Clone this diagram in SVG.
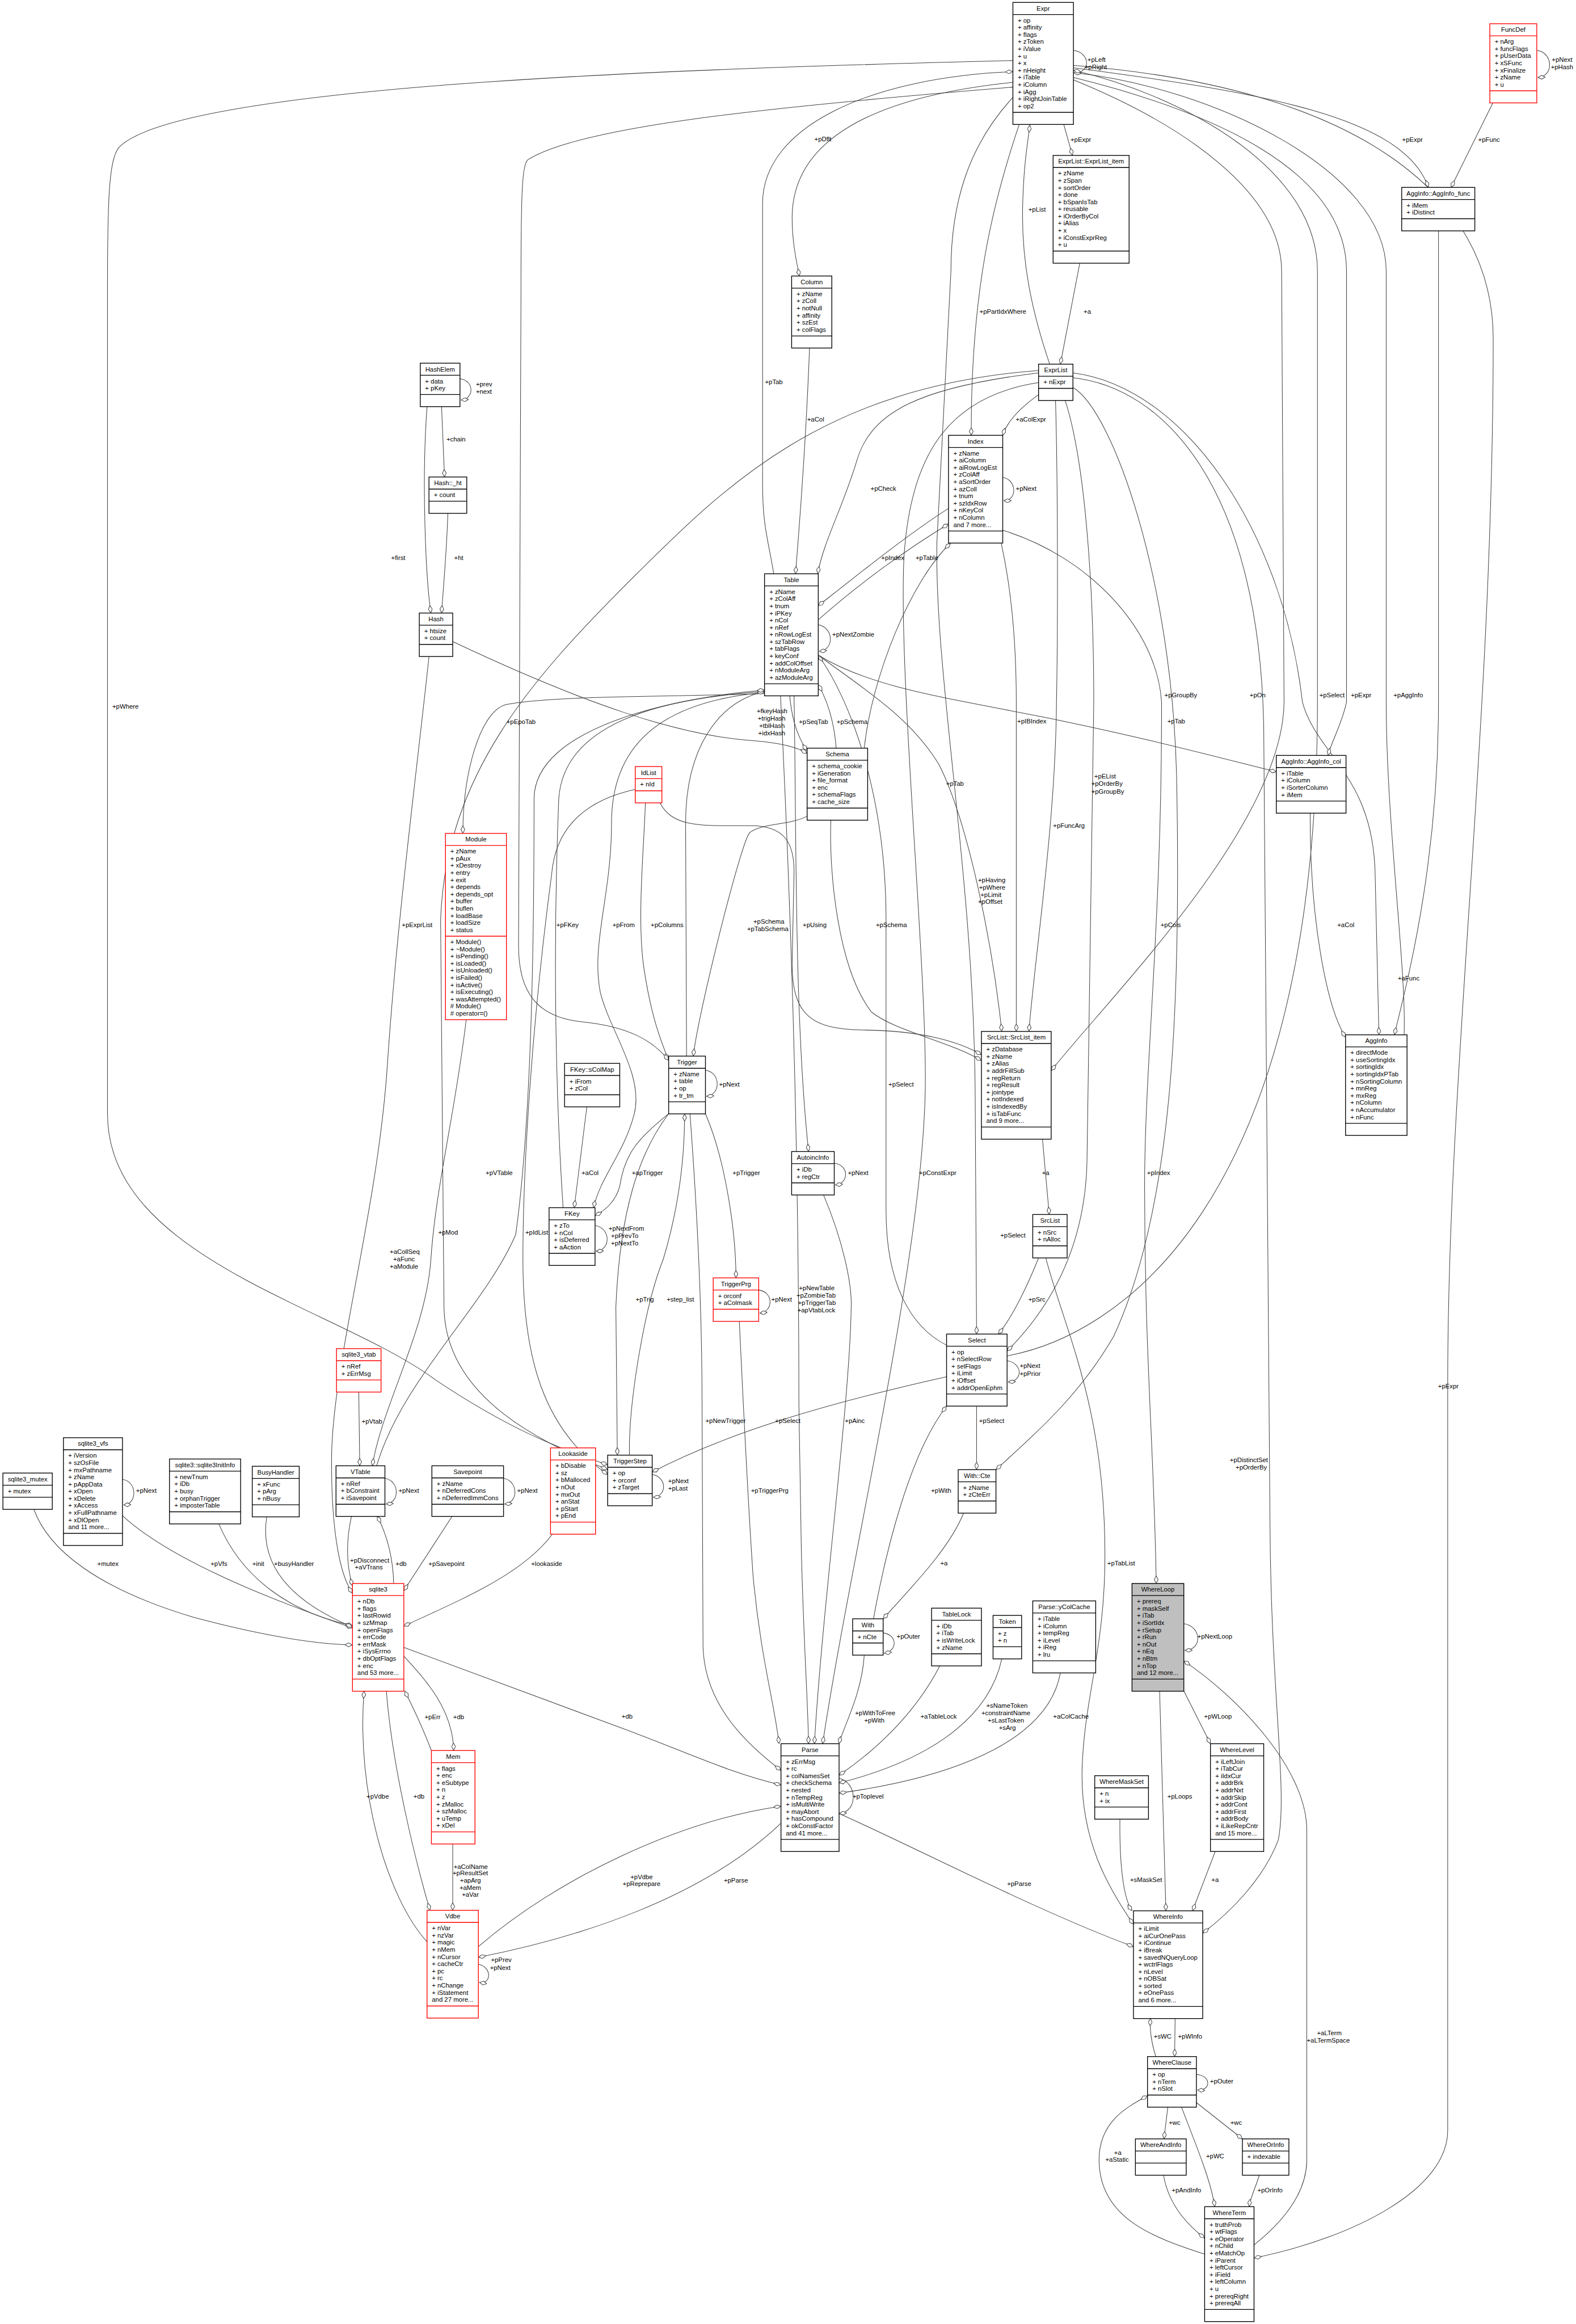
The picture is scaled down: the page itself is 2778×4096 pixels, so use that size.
<svg xmlns="http://www.w3.org/2000/svg" width="2778" height="4096" viewBox="0 0 2778 4096">
<defs>
<style>
.b{fill:#fff;stroke:#000;stroke-width:1.6}
.r{fill:#fff;stroke:#f00;stroke-width:1.6}
.g{fill:#bfbfbf;stroke:#000;stroke-width:1.6}
.s{fill:none;stroke:#000;stroke-width:1.6}
.sr{fill:none;stroke:#f00;stroke-width:1.6}
text{font-family:"Liberation Sans",Arial,sans-serif;font-size:13.3px;fill:#000}
.h{text-anchor:middle}
.e{fill:none;stroke:#404040;stroke-width:1.2;marker-end:url(#od)}
</style>
<marker id="od" viewBox="0 0 16 9" markerWidth="16" markerHeight="9" refX="16" refY="4.5" orient="auto" markerUnits="userSpaceOnUse"><path d="M0.5,4.5 L8,0.5 L15.5,4.5 L8,8.5 Z" fill="#fff" stroke="#404040" stroke-width="1.2"/></marker>
</defs>
<rect width="2778" height="4096" fill="#fff"/>
<g transform="scale(0.85346)">
<g id="edges">
<path class="e" d="M2217,104 C2252,108 2254,152 2218,150"/>
<path class="e" d="M2197,257 L2215,321"/>
<path class="e" d="M2168,752 C2130,640 2110,540 2112,430 C2114,340 2122,300 2127,258"/>
<path class="e" d="M2230,544 L2190,752"/>
<path class="e" d="M2217,140 C2600,190 2900,240 2950,387"/>
<path class="e" d="M3083,213 L2997,387"/>
<path class="e" d="M3174,104 C3208,108 3210,158 3176,160"/>
<path class="e" d="M2092,170 C1800,200 1636,290 1636,450 C1636,500 1645,540 1651,570"/>
<path class="e" d="M1598,1185 C1588,1120 1575,1090 1575,1000 L1575,420 C1575,260 1800,160 2092,148"/>
<path class="e" d="M2105,257 C2050,420 2005,600 2006,899"/>
<path class="e" d="M2145,815 C2110,840 2080,870 2071,899"/>
<path class="e" d="M2071,986 C2100,990 2102,1034 2073,1034"/>
<path class="e" d="M1672,719 C1665,900 1650,1100 1643,1185"/>
<path class="e" d="M2145,770 C1900,800 1800,850 1770,950 C1740,1050 1700,1120 1689,1185"/>
<path class="e" d="M1959,1050 C1880,1100 1780,1180 1690,1251"/>
<path class="e" d="M1690,1280 C1780,1200 1880,1130 1959,1082"/>
<path class="e" d="M1690,1290 C1722,1296 1724,1342 1692,1345"/>
<path class="e" d="M1727,1545 C1722,1480 1705,1440 1690,1414"/>
<path class="e" d="M1631,1437 C1635,1480 1645,1520 1667,1550"/>
<path class="e" d="M935,1325 C1200,1450 1400,1520 1560,1530 C1620,1535 1650,1545 1667,1556"/>
<path class="e" d="M925,1060 C922,1150 915,1220 912,1266"/>
<path class="e" d="M882,840 C870,1000 880,1200 890,1266"/>
<path class="e" d="M912,840 L918,985"/>
<path class="e" d="M950,782 C980,786 980,824 952,826"/>
<path class="e" d="M1579,1432 C1400,1440 1150,1435 1045,1455 C990,1470 956,1600 956,1721"/>
<path class="e" d="M1163,2494 C1150,2300 1140,2000 1154,1650 C1165,1480 1400,1440 1579,1428"/>
<path class="e" d="M1579,1430 C1350,1450 1263,1550 1263,1700 C1263,1850 1220,1950 1240,2050 C1260,2130 1330,2220 1310,2300 C1290,2380 1240,2430 1226,2494"/>
<path class="e" d="M1333,1658 C1330,1750 1315,1900 1330,2000 C1345,2100 1365,2150 1381,2190"/>
<path class="e" d="M1668,1685 C1630,1705 1570,1700 1548,1720 C1530,1740 1440,2100 1432,2181"/>
<path class="e" d="M1363,1658 C1390,1710 1450,1705 1550,1705 C1620,1705 1640,1740 1640,1800 L1636,1990 C1636,2100 1680,2125 1780,2127 C1900,2128 1980,2150 2027,2178"/>
<path class="e" d="M1716,1694 C1712,1800 1730,2000 1800,2090 C1850,2130 1960,2150 2027,2190"/>
<path class="e" d="M1955,2778 C1880,2740 1830,2650 1830,2500 L1830,1900 C1830,1650 1760,1450 1690,1353"/>
<path class="e" d="M1690,1353 C1780,1420 1880,1480 1940,1580 C2000,1700 2050,1950 2069,2130"/>
<path class="e" d="M2068,1122 C2085,1200 2099,1300 2099,1450 L2099,2130"/>
<path class="e" d="M2180,827 C2185,1000 2185,1300 2182,1450 C2180,1700 2140,1950 2125,2130"/>
<path class="e" d="M2200,827 C2240,950 2259,1200 2259,1450 L2245,2400 C2240,2600 2150,2720 2080,2790"/>
<path class="e" d="M2093,200 C2000,300 1964,420 1964,560 L1935,1120 C1930,1400 2010,1800 2014,2250 L2017,2755"/>
<path class="e" d="M2145,790 C1950,820 1880,950 1867,1150 C1855,1400 1915,2000 1911,2250 C1905,2600 1760,3200 1699,3601"/>
<path class="e" d="M2153,2352 L2167,2508"/>
<path class="e" d="M2145,2598 C2120,2660 2090,2720 2062,2755"/>
<path class="e" d="M2080,2810 C2112,2815 2114,2852 2082,2854"/>
<path class="e" d="M1804,3343 C1830,3200 1880,3000 1955,2904"/>
<path class="e" d="M2017,2904 L2017,3035"/>
<path class="e" d="M2216,800 C2300,850 2420,1200 2430,1600 C2440,2100 2420,2500 2300,2760 C2230,2880 2150,2950 2057,3035"/>
<path class="e" d="M1990,3125 C1960,3200 1880,3280 1824,3343"/>
<path class="e" d="M1824,3372 C1854,3376 1854,3410 1826,3414"/>
<path class="e" d="M1785,3418 C1780,3500 1740,3570 1733,3601"/>
<path class="e" d="M1941,3440 C1900,3520 1830,3600 1733,3666"/>
<path class="e" d="M2069,3426 C2040,3560 1900,3640 1733,3682"/>
<path class="e" d="M2190,3455 C2160,3620 1900,3680 1733,3703"/>
<path class="e" d="M1733,3672 C1772,3682 1772,3742 1733,3745"/>
<path class="e" d="M2160,2598 C2200,2750 2280,2900 2282,3200 C2284,3400 2240,3500 2235,3650 C2230,3800 2290,3900 2341,3974"/>
<path class="e" d="M2395,3492 L2408,3946"/>
<path class="e" d="M2445,3353 C2482,3358 2484,3408 2447,3408"/>
<path class="e" d="M2445,3492 L2500,3601"/>
<path class="e" d="M2510,3823 L2463,3946"/>
<path class="e" d="M2313,3757 C2312,3850 2320,3920 2338,3946"/>
<path class="e" d="M1733,3745 C1900,3820 2150,3950 2341,4020"/>
<path class="e" d="M2216,780 C2400,800 2600,1000 2610,1500 L2623,3150 C2625,3500 2660,3700 2640,3800 C2610,3880 2540,3950 2484,3992"/>
<path class="e" d="M2071,1095 C2250,1150 2390,1300 2399,1450 C2400,1900 2364,2200 2364,2450 C2364,2800 2384,3000 2388,3270"/>
<path class="e" d="M1690,1353 C1800,1420 1950,1440 2150,1480 C2350,1520 2500,1560 2636,1594"/>
<path class="e" d="M2706,1679 C2705,1900 2740,2080 2779,2142"/>
<path class="e" d="M2971,477 L2971,1450 C2971,1800 2900,2050 2880,2137"/>
<path class="e" d="M2216,770 C2450,800 2650,1100 2690,1450 C2720,1560 2834,1600 2840,1800 L2848,2137"/>
<path class="e" d="M2217,160 C2500,230 2781,350 2781,560 L2781,1450 C2770,1500 2750,1530 2743,1560"/>
<path class="e" d="M2900,2137 C2905,2000 2863,1700 2863,1450 L2863,560 C2863,350 2500,180 2217,150"/>
<path class="e" d="M2080,2800 C2300,2760 2721,2500 2721,1450 L2721,560 C2721,350 2450,200 2217,145"/>
<path class="e" d="M2217,165 C2450,260 2647,400 2647,560 L2652,1450 C2650,1700 2300,2050 2171,2211"/>
<path class="e" d="M2217,135 C2800,180 3084,400 3084,700 C3084,1500 2990,2200 2990,2860 L2990,4400 C2990,4520 2800,4620 2590,4663"/>
<path class="e" d="M2590,4636 C2660,4580 2699,4520 2699,4460 L2699,3780 C2699,3650 2550,3500 2445,3430"/>
<path class="e" d="M2387,4247 C2376,4210 2375,4190 2376,4168"/>
<path class="e" d="M2427,4168 L2426,4247"/>
<path class="e" d="M2471,4284 C2502,4286 2502,4318 2473,4316"/>
<path class="e" d="M2412,4351 L2404,4417"/>
<path class="e" d="M2471,4342 L2566,4417"/>
<path class="e" d="M2488,4655 C2380,4620 2270,4580 2270,4460 C2270,4380 2330,4350 2370,4328"/>
<path class="e" d="M2440,4351 C2470,4430 2500,4500 2509,4557"/>
<path class="e" d="M2403,4492 C2415,4560 2460,4600 2488,4622"/>
<path class="e" d="M2601,4492 C2592,4520 2582,4540 2580,4557"/>
<path class="e" d="M741,2875 L743,3027"/>
<path class="e" d="M795,3053 C826,3058 826,3104 797,3106"/>
<path class="e" d="M253,3055 C284,3060 284,3106 255,3108"/>
<path class="e" d="M1040,3053 C1071,3058 1071,3104 1042,3106"/>
<path class="e" d="M70,3117 C100,3200 200,3280 400,3340 C550,3380 650,3395 728,3397"/>
<path class="e" d="M253,3130 C350,3220 550,3300 728,3362"/>
<path class="e" d="M452,3147 C500,3260 600,3330 728,3357"/>
<path class="e" d="M551,3132 C540,3200 560,3290 728,3360"/>
<path class="e" d="M726,3131 C715,3180 715,3230 728,3275"/>
<path class="e" d="M813,3270 C812,3220 800,3170 779,3131"/>
<path class="e" d="M934,3131 L834,3285"/>
<path class="e" d="M1141,3168 C1080,3250 960,3300 834,3358"/>
<path class="e" d="M891,3615 C870,3560 850,3520 836,3492"/>
<path class="e" d="M834,3420 C880,3470 935,3530 937,3615"/>
<path class="e" d="M882,4010 C800,3920 735,3700 752,3492"/>
<path class="e" d="M798,3492 C810,3650 860,3850 888,3945"/>
<path class="e" d="M935,3808 L935,3945"/>
<path class="e" d="M988,4020 C1150,3880 1400,3760 1613,3730"/>
<path class="e" d="M1613,3765 C1450,3920 1200,4000 988,4042"/>
<path class="e" d="M988,4056 C1016,4062 1016,4098 990,4094"/>
<path class="e" d="M834,3402 L1250,3556 C1400,3610 1500,3660 1613,3686"/>
<path class="e" d="M1425,2300 C1440,2500 1450,2700 1450,2900 L1452,3400 C1455,3520 1540,3600 1613,3656"/>
<path class="e" d="M1527,2729 C1535,2900 1545,3100 1555,3250 C1570,3420 1600,3520 1609,3601"/>
<path class="e" d="M1612,1437 C1630,1800 1650,2300 1650,2900 L1655,3200 C1660,3400 1668,3500 1670,3601"/>
<path class="e" d="M1701,2468 C1740,2560 1760,2650 1758,2700 C1755,2900 1700,3300 1682,3601"/>
<path class="e" d="M1381,2300 C1320,2380 1280,2500 1272,2700 L1275,3005"/>
<path class="e" d="M1300,3005 C1298,2900 1330,2700 1370,2600 C1400,2500 1414,2400 1414,2300"/>
<path class="e" d="M1347,3045 C1378,3050 1378,3090 1349,3092"/>
<path class="e" d="M1418,2181 L1416,1700 C1416,1550 1480,1450 1579,1428"/>
<path class="e" d="M1457,2210 C1489,2214 1489,2262 1459,2264"/>
<path class="e" d="M1381,2300 C1320,2350 1290,2380 1280,2450 C1272,2480 1250,2500 1229,2510"/>
<path class="e" d="M1212,2286 L1186,2494"/>
<path class="e" d="M1229,2531 C1262,2536 1262,2582 1231,2584"/>
<path class="e" d="M1457,2300 C1500,2400 1520,2550 1520,2639"/>
<path class="e" d="M1567,2664 C1598,2668 1598,2708 1569,2712"/>
<path class="e" d="M1723,2402 C1754,2406 1754,2444 1725,2447"/>
<path class="e" d="M1640,1437 C1645,1700 1640,2100 1670,2378"/>
<path class="e" d="M2092,180 C1600,220 1200,260 1090,330 C1078,340 1076,400 1076,600 L1071,1950 C1070,2050 1110,2100 1200,2110 C1300,2120 1350,2150 1381,2190"/>
<path class="e" d="M2092,125 C1500,140 400,170 250,300 C225,320 222,400 222,600 L222,2300 C222,2600 700,2700 900,2850 C1050,2950 1150,2990 1255,3025"/>
<path class="e" d="M2145,765 C1700,800 1500,1000 1300,1200 C1100,1400 920,1600 910,1900 L917,2700 C920,2900 1150,2990 1255,3035"/>
<path class="e" d="M1312,1630 C1220,1650 1150,1700 1140,1800 C1100,2100 1080,2400 1080,2600 C1080,2800 1120,2950 1255,3045"/>
<path class="e" d="M963,2105 C940,2300 900,2450 890,2600 C880,2750 790,2900 769,3027"/>
<path class="e" d="M778,3027 C830,2850 1000,2700 1065,2550 C1100,2300 1103,1900 1103,1650 C1103,1500 1400,1440 1579,1425"/>
<path class="e" d="M886,1356 C860,1600 820,1900 800,2200 C780,2500 690,2800 685,3000 C683,3150 700,3250 728,3290"/>
<path class="e" d="M1955,2843 C1700,2900 1500,2960 1347,3040"/>
<path class="e" d="M1785,1545 C1800,1400 1880,1200 1963,1122"/>
</g>
<g id="edge-labels">
<text x="2246" y="128">+pLeft</text><text x="2240" y="143">+pRight</text>
<text x="2211" y="293">+pExpr</text>
<text x="2124" y="437">+pList</text>
<text x="2238" y="648">+a</text>
<text x="2896" y="293">+pExpr</text>
<text x="3053" y="293">+pFunc</text>
<text x="3205" y="128">+pNext</text><text x="3203" y="143">+pHash</text>
<text x="1682" y="292">+pDflt</text>
<text x="1580" y="793">+pTab</text>
<text x="2023" y="648">+pPartIdxWhere</text>
<text x="2098" y="870">+aColExpr</text>
<text x="2098" y="1013">+pNext</text>
<text x="1667" y="870">+aCol</text>
<text x="1798" y="1013">+pCheck</text>
<text x="1820" y="1157">+pIndex</text>
<text x="1891" y="1157">+pTable</text>
<text x="1719" y="1315">+pNextZombie</text>
<text x="1728" y="1495">+pSchema</text>
<text x="1650" y="1495">+pSeqTab</text>
<text x="1563" y="1473">+fkeyHash</text><text x="1565" y="1488">+trigHash</text><text x="1568" y="1503">+tblHash</text><text x="1566" y="1518">+idxHash</text>
<text x="938" y="1157">+ht</text>
<text x="808" y="1157">+first</text>
<text x="922" y="912">+chain</text>
<text x="983" y="798">+prev</text><text x="983" y="813">+next</text>
<text x="1046" y="1495">+pEpoTab</text>
<text x="1149" y="1915">+pFKey</text>
<text x="1265" y="1915">+pFrom</text>
<text x="1344" y="1915">+pColumns</text>
<text x="1556" y="1908">+pSchema</text><text x="1543" y="1923">+pTabSchema</text>
<text x="1658" y="1915">+pUsing</text>
<text x="1809" y="1915">+pSchema</text>
<text x="1003" y="2427">+pVTable</text>
<text x="1201" y="2427">+aCol</text>
<text x="1305" y="2427">+apTrigger</text>
<text x="1513" y="2427">+pTrigger</text>
<text x="1751" y="2427">+pNext</text>
<text x="1485" y="2244">+pNext</text>
<text x="1835" y="2244">+pSelect</text>
<text x="1257" y="2542">+pNextFrom</text><text x="1262" y="2557">+pPrevTo</text><text x="1262" y="2572">+pNextTo</text>
<text x="1898" y="2427">+pConstExpr</text>
<text x="2152" y="2427">+a</text>
<text x="2066" y="2556">+pSelect</text>
<text x="1313" y="2688">+pTrig</text>
<text x="1377" y="2688">+step_list</text>
<text x="1593" y="2688">+pNext</text>
<text x="1650" y="2665">+pNewTable</text><text x="1645" y="2680">+pZombieTab</text><text x="1648" y="2695">+pTriggerTab</text><text x="1647" y="2710">+apVtabLock</text>
<text x="2124" y="2688">+pSrc</text>
<text x="2106" y="2825">+pNext</text><text x="2106" y="2841">+pPrior</text>
<text x="1457" y="2939">+pNewTrigger</text>
<text x="1601" y="2939">+pSelect</text>
<text x="1745" y="2939">+pAinc</text>
<text x="2022" y="2939">+pSelect</text>
<text x="1380" y="3063">+pNext</text><text x="1380" y="3078">+pLast</text>
<text x="2101" y="1494">+pIBIndex</text>
<text x="2411" y="1494">+pTab</text>
<text x="1954" y="1623">+pTab</text>
<text x="2260" y="1608">+pEList</text><text x="2254" y="1623">+pOrderBy</text><text x="2254" y="1639">+pGroupBy</text>
<text x="2397" y="1915">+pCols</text>
<text x="2762" y="1915">+aCol</text>
<text x="2369" y="2427">+pIndex</text>
<text x="1551" y="3083">+pTriggerPrg</text>
<text x="1923" y="3083">+pWith</text>
<text x="2287" y="3233">+pTabList</text>
<text x="1942" y="3233">+a</text>
<text x="1852" y="3384">+pOuter</text>
<text x="1766" y="3542">+pWithToFree</text><text x="1785" y="3557">+pWith</text>
<text x="1901" y="3549">+aTableLock</text>
<text x="2037" y="3527">+sNameToken</text><text x="2027" y="3542">+constraintName</text><text x="2040" y="3557">+sLastToken</text><text x="2063" y="3572">+sArg</text>
<text x="2175" y="3549">+aColCache</text>
<text x="1761" y="3714">+pToplevel</text>
<text x="2411" y="3714">+pLoops</text>
<text x="2473" y="3384">+pNextLoop</text>
<text x="2487" y="3549">+pWLoop</text>
<text x="2334" y="3887">+sMaskSet</text>
<text x="2502" y="3887">+a</text>
<text x="2383" y="4210">+sWC</text><text x="2433" y="4210">+pWInfo</text>
<text x="2499" y="4302">+pOuter</text>
<text x="2720" y="4203">+aLTerm</text><text x="2699" y="4218">+aLTermSpace</text>
<text x="2414" y="4388">+wc</text><text x="2541" y="4388">+wc</text>
<text x="2301" y="4450">+a</text><text x="2283" y="4464">+aStatic</text>
<text x="2491" y="4457">+pWC</text>
<text x="2420" y="4527">+pAndInfo</text>
<text x="2597" y="4527">+pOrInfo</text>
<text x="747" y="2940">+pVtab</text>
<text x="281" y="3083">+pNext</text><text x="823" y="3083">+pNext</text><text x="1068" y="3083">+pNext</text>
<text x="201" y="3234">+mutex</text><text x="435" y="3234">+pVfs</text><text x="521" y="3234">+init</text><text x="566" y="3234">+busyHandler</text>
<text x="723" y="3227">+pDisconnect</text><text x="733" y="3241">+aVTrans</text>
<text x="817" y="3234">+db</text><text x="885" y="3234">+pSavepoint</text><text x="1097" y="3234">+lookaside</text>
<text x="877" y="3550">+pErr</text><text x="936" y="3550">+db</text>
<text x="757" y="3714">+pVdbe</text><text x="854" y="3714">+db</text>
<text x="1284" y="3549">+db</text>
<text x="937" y="3859">+aColName</text><text x="935" y="3873">+pResultSet</text><text x="950" y="3888">+apArg</text><text x="949" y="3903">+aMem</text><text x="954" y="3917">+aVar</text>
<text x="1302" y="3881">+pVdbe</text><text x="1286" y="3895">+pReprepare</text>
<text x="1495" y="3888">+pParse</text>
<text x="1014" y="4052">+pPrev</text><text x="1012" y="4068">+pNext</text>
<text x="2080" y="3895">+pParse</text>
<text x="1085" y="2550">+pIdList</text>
<text x="905" y="2550">+pMod</text>
<text x="830" y="1915">+pExprList</text>
<text x="232" y="1464">+pWhere</text>
<text x="805" y="2590">+aCollSeq</text><text x="812" y="2605">+aFunc</text><text x="805" y="2620">+aModule</text>
<text x="2581" y="1440">+pOn</text>
<text x="2725" y="1440">+pSelect</text>
<text x="2878" y="1440">+pAggInfo</text>
<text x="2790" y="1440">+pExpr</text>
<text x="2887" y="2025">+aFunc</text>
<text x="2020" y="1822">+pHaving</text><text x="2022" y="1837">+pWhere</text><text x="2025" y="1852">+pLimit</text><text x="2020" y="1867">+pOffset</text>
<text x="2540" y="3020">+pDistinctSet</text><text x="2552" y="3035">+pOrderBy</text>
<text x="2970" y="2867">+pExpr</text>
<text x="2175" y="1709">+pFuncArg</text>
<text x="2405" y="1440">+pGroupBy</text>
</g>
<g id="n_Expr"><rect class="b" x="2092" y="5" width="125" height="252"/><path class="s" d="M2092,30H2217M2092,232H2217"/><text class="h" x="2154.5" y="22">Expr</text><text x="2102" y="46.5"><tspan x="2102">+ op</tspan><tspan x="2102" dy="14.75">+ affinity</tspan><tspan x="2102" dy="14.75">+ flags</tspan><tspan x="2102" dy="14.75">+ zToken</tspan><tspan x="2102" dy="14.75">+ iValue</tspan><tspan x="2102" dy="14.75">+ u</tspan><tspan x="2102" dy="14.75">+ x</tspan><tspan x="2102" dy="14.75">+ nHeight</tspan><tspan x="2102" dy="14.75">+ iTable</tspan><tspan x="2102" dy="14.75">+ iColumn</tspan><tspan x="2102" dy="14.75">+ iAgg</tspan><tspan x="2102" dy="14.75">+ iRightJoinTable</tspan><tspan x="2102" dy="14.75">+ op2</tspan></text></g>
<g id="n_FuncDef"><rect class="r" x="3077" y="49" width="97" height="163.5"/><path class="sr" d="M3077,74H3174M3077,187.5H3174"/><text class="h" x="3125.5" y="66">FuncDef</text><text x="3087" y="90.5"><tspan x="3087">+ nArg</tspan><tspan x="3087" dy="14.75">+ funcFlags</tspan><tspan x="3087" dy="14.75">+ pUserData</tspan><tspan x="3087" dy="14.75">+ xSFunc</tspan><tspan x="3087" dy="14.75">+ xFinalize</tspan><tspan x="3087" dy="14.75">+ zName</tspan><tspan x="3087" dy="14.75">+ u</tspan></text></g>
<g id="n_ExprList_item"><rect class="b" x="2175" y="321" width="157" height="222.5"/><path class="s" d="M2175,346H2332M2175,518.5H2332"/><text class="h" x="2253.5" y="338">ExprList::ExprList_item</text><text x="2185" y="362.5"><tspan x="2185">+ zName</tspan><tspan x="2185" dy="14.75">+ zSpan</tspan><tspan x="2185" dy="14.75">+ sortOrder</tspan><tspan x="2185" dy="14.75">+ done</tspan><tspan x="2185" dy="14.75">+ bSpanIsTab</tspan><tspan x="2185" dy="14.75">+ reusable</tspan><tspan x="2185" dy="14.75">+ iOrderByCol</tspan><tspan x="2185" dy="14.75">+ iAlias</tspan><tspan x="2185" dy="14.75">+ x</tspan><tspan x="2185" dy="14.75">+ iConstExprReg</tspan><tspan x="2185" dy="14.75">+ u</tspan></text></g>
<g id="n_AggInfo_func"><rect class="b" x="2895" y="387" width="151" height="89.75"/><path class="s" d="M2895,412H3046M2895,451.75H3046"/><text class="h" x="2970.5" y="404">AggInfo::AggInfo_func</text><text x="2905" y="428.5"><tspan x="2905">+ iMem</tspan><tspan x="2905" dy="14.75">+ iDistinct</tspan></text></g>
<g id="n_Column"><rect class="b" x="1635" y="570" width="83" height="148.75"/><path class="s" d="M1635,595H1718M1635,693.75H1718"/><text class="h" x="1676.5" y="587">Column</text><text x="1645" y="611.5"><tspan x="1645">+ zName</tspan><tspan x="1645" dy="14.75">+ zColl</tspan><tspan x="1645" dy="14.75">+ notNull</tspan><tspan x="1645" dy="14.75">+ affinity</tspan><tspan x="1645" dy="14.75">+ szEst</tspan><tspan x="1645" dy="14.75">+ colFlags</tspan></text></g>
<g id="n_ExprList"><rect class="b" x="2145" y="752" width="71" height="75"/><path class="s" d="M2145,777H2216M2145,802H2216"/><text class="h" x="2180.5" y="769">ExprList</text><text x="2155" y="793.5">+ nExpr</text></g>
<g id="n_Index"><rect class="b" x="1959" y="899" width="112" height="222.5"/><path class="s" d="M1959,924H2071M1959,1096.5H2071"/><text class="h" x="2015" y="916">Index</text><text x="1969" y="940.5"><tspan x="1969">+ zName</tspan><tspan x="1969" dy="14.75">+ aiColumn</tspan><tspan x="1969" dy="14.75">+ aiRowLogEst</tspan><tspan x="1969" dy="14.75">+ zColAff</tspan><tspan x="1969" dy="14.75">+ aSortOrder</tspan><tspan x="1969" dy="14.75">+ azColl</tspan><tspan x="1969" dy="14.75">+ tnum</tspan><tspan x="1969" dy="14.75">+ szIdxRow</tspan><tspan x="1969" dy="14.75">+ nKeyCol</tspan><tspan x="1969" dy="14.75">+ nColumn</tspan><tspan x="1969" dy="14.75">and 7 more...</tspan></text></g>
<g id="n_HashElem"><rect class="b" x="868" y="750" width="82" height="89.75"/><path class="s" d="M868,775H950M868,814.75H950"/><text class="h" x="909" y="767">HashElem</text><text x="878" y="791.5"><tspan x="878">+ data</tspan><tspan x="878" dy="14.75">+ pKey</tspan></text></g>
<g id="n_Hash_ht"><rect class="b" x="886" y="985" width="78" height="75"/><path class="s" d="M886,1010H964M886,1035H964"/><text class="h" x="925" y="1002">Hash::_ht</text><text x="896" y="1026.5">+ count</text></g>
<g id="n_Hash"><rect class="b" x="866" y="1266" width="69" height="89.75"/><path class="s" d="M866,1291H935M866,1330.75H935"/><text class="h" x="900.5" y="1283">Hash</text><text x="876" y="1307.5"><tspan x="876">+ htsize</tspan><tspan x="876" dy="14.75">+ count</tspan></text></g>
<g id="n_Table"><rect class="b" x="1579" y="1185" width="111" height="252"/><path class="s" d="M1579,1210H1690M1579,1412H1690"/><text class="h" x="1634.5" y="1202">Table</text><text x="1589" y="1226.5"><tspan x="1589">+ zName</tspan><tspan x="1589" dy="14.75">+ zColAff</tspan><tspan x="1589" dy="14.75">+ tnum</tspan><tspan x="1589" dy="14.75">+ iPKey</tspan><tspan x="1589" dy="14.75">+ nCol</tspan><tspan x="1589" dy="14.75">+ nRef</tspan><tspan x="1589" dy="14.75">+ nRowLogEst</tspan><tspan x="1589" dy="14.75">+ szTabRow</tspan><tspan x="1589" dy="14.75">+ tabFlags</tspan><tspan x="1589" dy="14.75">+ keyConf</tspan><tspan x="1589" dy="14.75">+ addColOffset</tspan><tspan x="1589" dy="14.75">+ nModuleArg</tspan><tspan x="1589" dy="14.75">+ azModuleArg</tspan></text></g>
<g id="n_Schema"><rect class="b" x="1667" y="1545" width="125" height="148.75"/><path class="s" d="M1667,1570H1792M1667,1668.75H1792"/><text class="h" x="1729.5" y="1562">Schema</text><text x="1677" y="1586.5"><tspan x="1677">+ schema_cookie</tspan><tspan x="1677" dy="14.75">+ iGeneration</tspan><tspan x="1677" dy="14.75">+ file_format</tspan><tspan x="1677" dy="14.75">+ enc</tspan><tspan x="1677" dy="14.75">+ schemaFlags</tspan><tspan x="1677" dy="14.75">+ cache_size</tspan></text></g>
<g id="n_IdList"><rect class="r" x="1312" y="1583" width="55" height="75"/><path class="sr" d="M1312,1608H1367M1312,1633H1367"/><text class="h" x="1339.5" y="1600">IdList</text><text x="1322" y="1624.5">+ nId</text></g>
<g id="n_Module"><rect class="r" x="920" y="1721" width="126" height="384.75"/><path class="sr" d="M920,1746H1046M920,1933.25H1046"/><text class="h" x="983" y="1738">Module</text><text x="930" y="1762.5"><tspan x="930">+ zName</tspan><tspan x="930" dy="14.75">+ pAux</tspan><tspan x="930" dy="14.75">+ xDestroy</tspan><tspan x="930" dy="14.75">+ entry</tspan><tspan x="930" dy="14.75">+ exit</tspan><tspan x="930" dy="14.75">+ depends</tspan><tspan x="930" dy="14.75">+ depends_opt</tspan><tspan x="930" dy="14.75">+ buffer</tspan><tspan x="930" dy="14.75">+ buflen</tspan><tspan x="930" dy="14.75">+ loadBase</tspan><tspan x="930" dy="14.75">+ loadSize</tspan><tspan x="930" dy="14.75">+ status</tspan></text><text x="930" y="1949.75"><tspan x="930">+ Module()</tspan><tspan x="930" dy="14.75">+ ~Module()</tspan><tspan x="930" dy="14.75">+ isPending()</tspan><tspan x="930" dy="14.75">+ isLoaded()</tspan><tspan x="930" dy="14.75">+ isUnloaded()</tspan><tspan x="930" dy="14.75">+ isFailed()</tspan><tspan x="930" dy="14.75">+ isActive()</tspan><tspan x="930" dy="14.75">+ isExecuting()</tspan><tspan x="930" dy="14.75">+ wasAttempted()</tspan><tspan x="930" dy="14.75"># Module()</tspan><tspan x="930" dy="14.75"># operator=()</tspan></text></g>
<g id="n_Trigger"><rect class="b" x="1381" y="2181" width="76" height="119.25"/><path class="s" d="M1381,2206H1457M1381,2275.25H1457"/><text class="h" x="1419" y="2198">Trigger</text><text x="1391" y="2222.5"><tspan x="1391">+ zName</tspan><tspan x="1391" dy="14.75">+ table</tspan><tspan x="1391" dy="14.75">+ op</tspan><tspan x="1391" dy="14.75">+ tr_tm</tspan></text></g>
<g id="n_FKey_sColMap"><rect class="b" x="1166" y="2196" width="114" height="89.75"/><path class="s" d="M1166,2221H1280M1166,2260.75H1280"/><text class="h" x="1223" y="2213">FKey::sColMap</text><text x="1176" y="2237.5"><tspan x="1176">+ iFrom</tspan><tspan x="1176" dy="14.75">+ zCol</tspan></text></g>
<g id="n_AutoincInfo"><rect class="b" x="1635" y="2378" width="88" height="89.75"/><path class="s" d="M1635,2403H1723M1635,2442.75H1723"/><text class="h" x="1679" y="2395">AutoincInfo</text><text x="1645" y="2419.5"><tspan x="1645">+ iDb</tspan><tspan x="1645" dy="14.75">+ regCtr</tspan></text></g>
<g id="n_FKey"><rect class="b" x="1134" y="2494" width="95" height="119.25"/><path class="s" d="M1134,2519H1229M1134,2588.25H1229"/><text class="h" x="1181.5" y="2511">FKey</text><text x="1144" y="2535.5"><tspan x="1144">+ zTo</tspan><tspan x="1144" dy="14.75">+ nCol</tspan><tspan x="1144" dy="14.75">+ isDeferred</tspan><tspan x="1144" dy="14.75">+ aAction</tspan></text></g>
<g id="n_TriggerPrg"><rect class="r" x="1473" y="2639" width="94" height="89.75"/><path class="sr" d="M1473,2664H1567M1473,2703.75H1567"/><text class="h" x="1520" y="2656">TriggerPrg</text><text x="1483" y="2680.5"><tspan x="1483">+ orconf</tspan><tspan x="1483" dy="14.75">+ aColmask</tspan></text></g>
<g id="n_SrcList"><rect class="b" x="2133" y="2508" width="71" height="89.75"/><path class="s" d="M2133,2533H2204M2133,2572.75H2204"/><text class="h" x="2168.5" y="2525">SrcList</text><text x="2143" y="2549.5"><tspan x="2143">+ nSrc</tspan><tspan x="2143" dy="14.75">+ nAlloc</tspan></text></g>
<g id="n_Select"><rect class="b" x="1955" y="2755" width="125" height="148.75"/><path class="s" d="M1955,2780H2080M1955,2878.75H2080"/><text class="h" x="2017.5" y="2772">Select</text><text x="1965" y="2796.5"><tspan x="1965">+ op</tspan><tspan x="1965" dy="14.75">+ nSelectRow</tspan><tspan x="1965" dy="14.75">+ selFlags</tspan><tspan x="1965" dy="14.75">+ iLimit</tspan><tspan x="1965" dy="14.75">+ iOffset</tspan><tspan x="1965" dy="14.75">+ addrOpenEphm</tspan></text></g>
<g id="n_SrcList_item"><rect class="b" x="2027" y="2130" width="144" height="222.5"/><path class="s" d="M2027,2155H2171M2027,2327.5H2171"/><text class="h" x="2099" y="2147">SrcList::SrcList_item</text><text x="2037" y="2171.5"><tspan x="2037">+ zDatabase</tspan><tspan x="2037" dy="14.75">+ zName</tspan><tspan x="2037" dy="14.75">+ zAlias</tspan><tspan x="2037" dy="14.75">+ addrFillSub</tspan><tspan x="2037" dy="14.75">+ regReturn</tspan><tspan x="2037" dy="14.75">+ regResult</tspan><tspan x="2037" dy="14.75">+ jointype</tspan><tspan x="2037" dy="14.75">+ notIndexed</tspan><tspan x="2037" dy="14.75">+ isIndexedBy</tspan><tspan x="2037" dy="14.75">+ isTabFunc</tspan><tspan x="2037" dy="14.75">and 9 more...</tspan></text></g>
<g id="n_AggInfo_col"><rect class="b" x="2636" y="1560" width="144" height="119.25"/><path class="s" d="M2636,1585H2780M2636,1654.25H2780"/><text class="h" x="2708" y="1577">AggInfo::AggInfo_col</text><text x="2646" y="1601.5"><tspan x="2646">+ iTable</tspan><tspan x="2646" dy="14.75">+ iColumn</tspan><tspan x="2646" dy="14.75">+ iSorterColumn</tspan><tspan x="2646" dy="14.75">+ iMem</tspan></text></g>
<g id="n_AggInfo"><rect class="b" x="2779" y="2137" width="127" height="207.75"/><path class="s" d="M2779,2162H2906M2779,2319.75H2906"/><text class="h" x="2842.5" y="2154">AggInfo</text><text x="2789" y="2178.5"><tspan x="2789">+ directMode</tspan><tspan x="2789" dy="14.75">+ useSortingIdx</tspan><tspan x="2789" dy="14.75">+ sortingIdx</tspan><tspan x="2789" dy="14.75">+ sortingIdxPTab</tspan><tspan x="2789" dy="14.75">+ nSortingColumn</tspan><tspan x="2789" dy="14.75">+ mnReg</tspan><tspan x="2789" dy="14.75">+ mxReg</tspan><tspan x="2789" dy="14.75">+ nColumn</tspan><tspan x="2789" dy="14.75">+ nAccumulator</tspan><tspan x="2789" dy="14.75">+ nFunc</tspan></text></g>
<g id="n_TriggerStep"><rect class="b" x="1255" y="3005" width="92" height="104.5"/><path class="s" d="M1255,3030H1347M1255,3084.5H1347"/><text class="h" x="1301" y="3022">TriggerStep</text><text x="1265" y="3046.5"><tspan x="1265">+ op</tspan><tspan x="1265" dy="14.75">+ orconf</tspan><tspan x="1265" dy="14.75">+ zTarget</tspan></text></g>
<g id="n_sqlite3_vtab"><rect class="r" x="695" y="2785" width="92" height="89.75"/><path class="sr" d="M695,2810H787M695,2849.75H787"/><text class="h" x="741" y="2802">sqlite3_vtab</text><text x="705" y="2826.5"><tspan x="705">+ nRef</tspan><tspan x="705" dy="14.75">+ zErrMsg</tspan></text></g>
<g id="n_sqlite3_vfs"><rect class="b" x="131" y="2969" width="122" height="222.5"/><path class="s" d="M131,2994H253M131,3166.5H253"/><text class="h" x="192" y="2986">sqlite3_vfs</text><text x="141" y="3010.5"><tspan x="141">+ iVersion</tspan><tspan x="141" dy="14.75">+ szOsFile</tspan><tspan x="141" dy="14.75">+ mxPathname</tspan><tspan x="141" dy="14.75">+ zName</tspan><tspan x="141" dy="14.75">+ pAppData</tspan><tspan x="141" dy="14.75">+ xOpen</tspan><tspan x="141" dy="14.75">+ xDelete</tspan><tspan x="141" dy="14.75">+ xAccess</tspan><tspan x="141" dy="14.75">+ xFullPathname</tspan><tspan x="141" dy="14.75">+ xDlOpen</tspan><tspan x="141" dy="14.75">and 11 more...</tspan></text></g>
<g id="n_sqlite3_mutex"><rect class="b" x="6" y="3042" width="102" height="75"/><path class="s" d="M6,3067H108M6,3092H108"/><text class="h" x="57" y="3059">sqlite3_mutex</text><text x="16" y="3083.5">+ mutex</text></g>
<g id="n_sqlite3InitInfo"><rect class="b" x="350" y="3013" width="147" height="134"/><path class="s" d="M350,3038H497M350,3122H497"/><text class="h" x="423.5" y="3030">sqlite3::sqlite3InitInfo</text><text x="360" y="3054.5"><tspan x="360">+ newTnum</tspan><tspan x="360" dy="14.75">+ iDb</tspan><tspan x="360" dy="14.75">+ busy</tspan><tspan x="360" dy="14.75">+ orphanTrigger</tspan><tspan x="360" dy="14.75">+ imposterTable</tspan></text></g>
<g id="n_BusyHandler"><rect class="b" x="521" y="3028" width="97" height="104.5"/><path class="s" d="M521,3053H618M521,3107.5H618"/><text class="h" x="569.5" y="3045">BusyHandler</text><text x="531" y="3069.5"><tspan x="531">+ xFunc</tspan><tspan x="531" dy="14.75">+ pArg</tspan><tspan x="531" dy="14.75">+ nBusy</tspan></text></g>
<g id="n_VTable"><rect class="b" x="694" y="3027" width="101" height="104.5"/><path class="s" d="M694,3052H795M694,3106.5H795"/><text class="h" x="744.5" y="3044">VTable</text><text x="704" y="3068.5"><tspan x="704">+ nRef</tspan><tspan x="704" dy="14.75">+ bConstraint</tspan><tspan x="704" dy="14.75">+ iSavepoint</tspan></text></g>
<g id="n_Savepoint"><rect class="b" x="892" y="3027" width="148" height="104.5"/><path class="s" d="M892,3052H1040M892,3106.5H1040"/><text class="h" x="966" y="3044">Savepoint</text><text x="902" y="3068.5"><tspan x="902">+ zName</tspan><tspan x="902" dy="14.75">+ nDeferredCons</tspan><tspan x="902" dy="14.75">+ nDeferredImmCons</tspan></text></g>
<g id="n_Lookaside"><rect class="r" x="1137" y="2990" width="93" height="178.25"/><path class="sr" d="M1137,3015H1230M1137,3143.25H1230"/><text class="h" x="1183.5" y="3007">Lookaside</text><text x="1147" y="3031.5"><tspan x="1147">+ bDisable</tspan><tspan x="1147" dy="14.75">+ sz</tspan><tspan x="1147" dy="14.75">+ bMalloced</tspan><tspan x="1147" dy="14.75">+ nOut</tspan><tspan x="1147" dy="14.75">+ mxOut</tspan><tspan x="1147" dy="14.75">+ anStat</tspan><tspan x="1147" dy="14.75">+ pStart</tspan><tspan x="1147" dy="14.75">+ pEnd</tspan></text></g>
<g id="n_sqlite3"><rect class="r" x="728" y="3270" width="106" height="222.5"/><path class="sr" d="M728,3295H834M728,3467.5H834"/><text class="h" x="781" y="3287">sqlite3</text><text x="738" y="3311.5"><tspan x="738">+ nDb</tspan><tspan x="738" dy="14.75">+ flags</tspan><tspan x="738" dy="14.75">+ lastRowid</tspan><tspan x="738" dy="14.75">+ szMmap</tspan><tspan x="738" dy="14.75">+ openFlags</tspan><tspan x="738" dy="14.75">+ errCode</tspan><tspan x="738" dy="14.75">+ errMask</tspan><tspan x="738" dy="14.75">+ iSysErrno</tspan><tspan x="738" dy="14.75">+ dbOptFlags</tspan><tspan x="738" dy="14.75">+ enc</tspan><tspan x="738" dy="14.75">and 53 more...</tspan></text></g>
<g id="n_Mem"><rect class="r" x="891" y="3615" width="90" height="193"/><path class="sr" d="M891,3640H981M891,3783H981"/><text class="h" x="936" y="3632">Mem</text><text x="901" y="3656.5"><tspan x="901">+ flags</tspan><tspan x="901" dy="14.75">+ enc</tspan><tspan x="901" dy="14.75">+ eSubtype</tspan><tspan x="901" dy="14.75">+ n</tspan><tspan x="901" dy="14.75">+ z</tspan><tspan x="901" dy="14.75">+ zMalloc</tspan><tspan x="901" dy="14.75">+ szMalloc</tspan><tspan x="901" dy="14.75">+ uTemp</tspan><tspan x="901" dy="14.75">+ xDel</tspan></text></g>
<g id="n_Vdbe"><rect class="r" x="882" y="3945" width="106" height="222.5"/><path class="sr" d="M882,3970H988M882,4142.5H988"/><text class="h" x="935" y="3962">Vdbe</text><text x="892" y="3986.5"><tspan x="892">+ nVar</tspan><tspan x="892" dy="14.75">+ nzVar</tspan><tspan x="892" dy="14.75">+ magic</tspan><tspan x="892" dy="14.75">+ nMem</tspan><tspan x="892" dy="14.75">+ nCursor</tspan><tspan x="892" dy="14.75">+ cacheCtr</tspan><tspan x="892" dy="14.75">+ pc</tspan><tspan x="892" dy="14.75">+ rc</tspan><tspan x="892" dy="14.75">+ nChange</tspan><tspan x="892" dy="14.75">+ iStatement</tspan><tspan x="892" dy="14.75">and 27 more...</tspan></text></g>
<g id="n_Parse"><rect class="b" x="1613" y="3601" width="120" height="222.5"/><path class="s" d="M1613,3626H1733M1613,3798.5H1733"/><text class="h" x="1673" y="3618">Parse</text><text x="1623" y="3642.5"><tspan x="1623">+ zErrMsg</tspan><tspan x="1623" dy="14.75">+ rc</tspan><tspan x="1623" dy="14.75">+ colNamesSet</tspan><tspan x="1623" dy="14.75">+ checkSchema</tspan><tspan x="1623" dy="14.75">+ nested</tspan><tspan x="1623" dy="14.75">+ nTempReg</tspan><tspan x="1623" dy="14.75">+ isMultiWrite</tspan><tspan x="1623" dy="14.75">+ mayAbort</tspan><tspan x="1623" dy="14.75">+ hasCompound</tspan><tspan x="1623" dy="14.75">+ okConstFactor</tspan><tspan x="1623" dy="14.75">and 41 more...</tspan></text></g>
<g id="n_With_Cte"><rect class="b" x="1979" y="3035" width="78" height="89.75"/><path class="s" d="M1979,3060H2057M1979,3099.75H2057"/><text class="h" x="2018" y="3052">With::Cte</text><text x="1989" y="3076.5"><tspan x="1989">+ zName</tspan><tspan x="1989" dy="14.75">+ zCteErr</tspan></text></g>
<g id="n_With"><rect class="b" x="1761" y="3343" width="63" height="75"/><path class="s" d="M1761,3368H1824M1761,3393H1824"/><text class="h" x="1792.5" y="3360">With</text><text x="1771" y="3384.5">+ nCte</text></g>
<g id="n_TableLock"><rect class="b" x="1924" y="3321" width="103" height="119.25"/><path class="s" d="M1924,3346H2027M1924,3415.25H2027"/><text class="h" x="1975.5" y="3338">TableLock</text><text x="1934" y="3362.5"><tspan x="1934">+ iDb</tspan><tspan x="1934" dy="14.75">+ iTab</tspan><tspan x="1934" dy="14.75">+ isWriteLock</tspan><tspan x="1934" dy="14.75">+ zName</tspan></text></g>
<g id="n_Token"><rect class="b" x="2051" y="3336" width="59" height="89.75"/><path class="s" d="M2051,3361H2110M2051,3400.75H2110"/><text class="h" x="2080.5" y="3353">Token</text><text x="2061" y="3377.5"><tspan x="2061">+ z</tspan><tspan x="2061" dy="14.75">+ n</tspan></text></g>
<g id="n_yColCache"><rect class="b" x="2133" y="3306" width="130" height="148.75"/><path class="s" d="M2133,3331H2263M2133,3429.75H2263"/><text class="h" x="2198" y="3323">Parse::yColCache</text><text x="2143" y="3347.5"><tspan x="2143">+ iTable</tspan><tspan x="2143" dy="14.75">+ iColumn</tspan><tspan x="2143" dy="14.75">+ tempReg</tspan><tspan x="2143" dy="14.75">+ iLevel</tspan><tspan x="2143" dy="14.75">+ iReg</tspan><tspan x="2143" dy="14.75">+ lru</tspan></text></g>
<g id="n_WhereLoop"><rect class="g" x="2338" y="3270" width="107" height="222.5"/><path class="s" d="M2338,3295H2445M2338,3467.5H2445"/><text class="h" x="2391.5" y="3287">WhereLoop</text><text x="2348" y="3311.5"><tspan x="2348">+ prereq</tspan><tspan x="2348" dy="14.75">+ maskSelf</tspan><tspan x="2348" dy="14.75">+ iTab</tspan><tspan x="2348" dy="14.75">+ iSortIdx</tspan><tspan x="2348" dy="14.75">+ rSetup</tspan><tspan x="2348" dy="14.75">+ rRun</tspan><tspan x="2348" dy="14.75">+ nOut</tspan><tspan x="2348" dy="14.75">+ nEq</tspan><tspan x="2348" dy="14.75">+ nBtm</tspan><tspan x="2348" dy="14.75">+ nTop</tspan><tspan x="2348" dy="14.75">and 12 more...</tspan></text></g>
<g id="n_WhereLevel"><rect class="b" x="2500" y="3601" width="110" height="222.5"/><path class="s" d="M2500,3626H2610M2500,3798.5H2610"/><text class="h" x="2555" y="3618">WhereLevel</text><text x="2510" y="3642.5"><tspan x="2510">+ iLeftJoin</tspan><tspan x="2510" dy="14.75">+ iTabCur</tspan><tspan x="2510" dy="14.75">+ iIdxCur</tspan><tspan x="2510" dy="14.75">+ addrBrk</tspan><tspan x="2510" dy="14.75">+ addrNxt</tspan><tspan x="2510" dy="14.75">+ addrSkip</tspan><tspan x="2510" dy="14.75">+ addrCont</tspan><tspan x="2510" dy="14.75">+ addrFirst</tspan><tspan x="2510" dy="14.75">+ addrBody</tspan><tspan x="2510" dy="14.75">+ iLikeRepCntr</tspan><tspan x="2510" dy="14.75">and 15 more...</tspan></text></g>
<g id="n_WhereMaskSet"><rect class="b" x="2261" y="3667" width="111" height="89.75"/><path class="s" d="M2261,3692H2372M2261,3731.75H2372"/><text class="h" x="2316.5" y="3684">WhereMaskSet</text><text x="2271" y="3708.5"><tspan x="2271">+ n</tspan><tspan x="2271" dy="14.75">+ ix</tspan></text></g>
<g id="n_WhereInfo"><rect class="b" x="2341" y="3946" width="143" height="222.5"/><path class="s" d="M2341,3971H2484M2341,4143.5H2484"/><text class="h" x="2412.5" y="3963">WhereInfo</text><text x="2351" y="3987.5"><tspan x="2351">+ iLimit</tspan><tspan x="2351" dy="14.75">+ aiCurOnePass</tspan><tspan x="2351" dy="14.75">+ iContinue</tspan><tspan x="2351" dy="14.75">+ iBreak</tspan><tspan x="2351" dy="14.75">+ savedNQueryLoop</tspan><tspan x="2351" dy="14.75">+ wctrlFlags</tspan><tspan x="2351" dy="14.75">+ nLevel</tspan><tspan x="2351" dy="14.75">+ nOBSat</tspan><tspan x="2351" dy="14.75">+ sorted</tspan><tspan x="2351" dy="14.75">+ eOnePass</tspan><tspan x="2351" dy="14.75">and 6 more...</tspan></text></g>
<g id="n_WhereClause"><rect class="b" x="2370" y="4247" width="101" height="104.5"/><path class="s" d="M2370,4272H2471M2370,4326.5H2471"/><text class="h" x="2420.5" y="4264">WhereClause</text><text x="2380" y="4288.5"><tspan x="2380">+ op</tspan><tspan x="2380" dy="14.75">+ nTerm</tspan><tspan x="2380" dy="14.75">+ nSlot</tspan></text></g>
<g id="n_WhereAndInfo"><rect class="b" x="2345" y="4417" width="105" height="75"/><path class="s" d="M2345,4442H2450M2345,4467H2450"/><text class="h" x="2397.5" y="4434">WhereAndInfo</text></g>
<g id="n_WhereOrInfo"><rect class="b" x="2566" y="4417" width="96" height="75"/><path class="s" d="M2566,4442H2662M2566,4467H2662"/><text class="h" x="2614" y="4434">WhereOrInfo</text><text x="2576" y="4458.5">+ indexable</text></g>
<g id="n_WhereTerm"><rect class="b" x="2488" y="4557" width="102" height="237.25"/><path class="s" d="M2488,4582H2590M2488,4769.25H2590"/><text class="h" x="2539" y="4574">WhereTerm</text><text x="2498" y="4598.5"><tspan x="2498">+ truthProb</tspan><tspan x="2498" dy="14.75">+ wtFlags</tspan><tspan x="2498" dy="14.75">+ eOperator</tspan><tspan x="2498" dy="14.75">+ nChild</tspan><tspan x="2498" dy="14.75">+ eMatchOp</tspan><tspan x="2498" dy="14.75">+ iParent</tspan><tspan x="2498" dy="14.75">+ leftCursor</tspan><tspan x="2498" dy="14.75">+ iField</tspan><tspan x="2498" dy="14.75">+ leftColumn</tspan><tspan x="2498" dy="14.75">+ u</tspan><tspan x="2498" dy="14.75">+ prereqRight</tspan><tspan x="2498" dy="14.75">+ prereqAll</tspan></text></g>
</g>
</svg>
